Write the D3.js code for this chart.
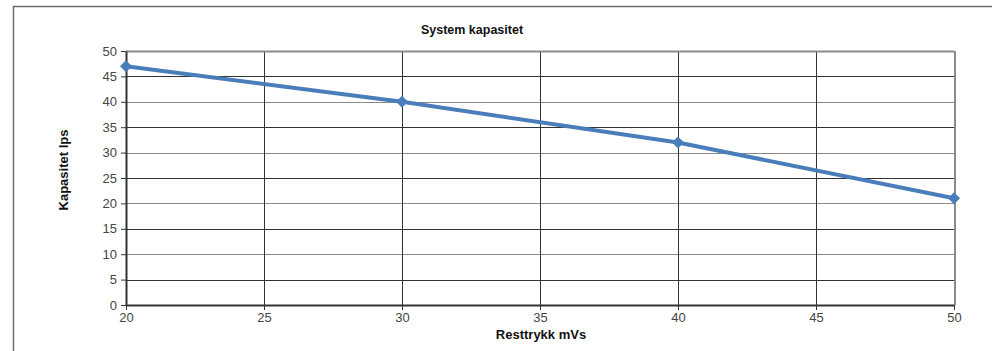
<!DOCTYPE html>
<html>
<head>
<meta charset="utf-8">
<script src="https://cdn.jsdelivr.net/npm/d3@7"></script>
<style>
  body { margin: 0; background: #fff; }
  text { font-family: "Liberation Sans", Arial, sans-serif; }
</style>
</head>
<body>
<div id="chart"></div>
<script>
// data
const resttrykk = [20, 30, 40, 50];
const kapasitet = [47, 40, 32, 21];
const xTicks = [20, 25, 30, 35, 40, 45, 50];
const yTicks = [0, 5, 10, 15, 20, 25, 30, 35, 40, 45, 50];

const W = 992, H = 351;
const margin = { top: 51, right: 38, bottom: 46, left: 126 };
const width = W - margin.left - margin.right,
    height = H - margin.top - margin.bottom;

const root = d3.select("#chart")
    .append("svg")
    .attr("width", W)
    .attr("height", H);

// outer chart frame
root.append("rect")
    .attr("x", 13.5).attr("y", 6.5)
    .attr("width", 1000).attr("height", 400)
    .attr("fill", "none")
    .attr("stroke", "#6e6e6e")
    .attr("stroke-width", 1.5);

const svg = root.append("g")
    .attr("transform", `translate(${margin.left}, ${margin.top})`);

const x = d3.scaleLinear().domain([20, 50]).range([0, width]);
const y = d3.scaleLinear().domain([0, 50]).range([height, 0]);

// gridlines
svg.append("g")
    .selectAll("line")
    .data(yTicks.slice(1))
    .join("line")
    .attr("x1", 0).attr("x2", width)
    .attr("y1", d => Math.round(y(d)) + 0.5).attr("y2", d => Math.round(y(d)) + 0.5)
    .attr("stroke", (d, i) => i % 2 ? "#8a8a8a" : "#333")
    .attr("stroke-width", 1);

svg.append("g")
    .selectAll("line")
    .data(xTicks.slice(1))
    .join("line")
    .attr("x1", d => Math.round(x(d)) + 0.5).attr("x2", d => Math.round(x(d)) + 0.5)
    .attr("y1", 0).attr("y2", height)
    .attr("stroke", "#333")
    .attr("stroke-width", 1);

// right edge shadow
svg.append("line")
    .attr("x1", width + 1).attr("x2", width + 1)
    .attr("y1", 0).attr("y2", height)
    .attr("stroke", "#8a8a8a").attr("stroke-width", 2);
svg.append("line")
    .attr("x1", 0).attr("x2", width)
    .attr("y1", 0.5).attr("y2", 0.5)
    .attr("stroke", "#8a8a8a").attr("stroke-width", 2);

// axes
const xAxis = svg.append("g")
    .attr("transform", `translate(0, ${height})`)
    .call(d3.axisBottom(x).tickValues(xTicks).tickSize(5).tickSizeOuter(0).tickPadding(3));
const yAxis = svg.append("g")
    .call(d3.axisLeft(y).tickValues(yTicks).tickSize(5).tickSizeOuter(0).tickPadding(4));

[xAxis, yAxis].forEach(a => {
    a.select(".domain").attr("stroke", "#333").attr("stroke-width", 2);
    a.selectAll(".tick line").attr("stroke", "#333");
    a.selectAll("text")
        .attr("fill", "#444")
        .style("font-size", "13px")
        .style("font-family", "'Liberation Sans', Arial, sans-serif");
});

// the line
const line = d3.line()
    .x((d, i) => x(resttrykk[i]))
    .y(d => y(d));

svg.append("path")
    .datum(kapasitet)
    .attr("fill", "none")
    .attr("stroke", "#4a7ebb")
    .attr("stroke-width", 4)
    .attr("stroke-linejoin", "round")
    .attr("d", line);

svg.append("g")
    .selectAll("path")
    .data(kapasitet)
    .join("path")
    .attr("d", d3.symbol().type(d3.symbolSquare).size(72))
    .attr("transform", (d, i) => `translate(${x(resttrykk[i])}, ${y(d)}) rotate(45)`)
    .attr("fill", "#4a7ebb");

// titles
root.append("text")
    .attr("x", 472).attr("y", 34)
    .attr("text-anchor", "middle")
    .style("font-size", "12.5px").style("font-weight", "bold")
    .attr("fill", "#111")
    .text("System kapasitet");

root.append("text")
    .attr("x", 541).attr("y", 339)
    .attr("text-anchor", "middle")
    .style("font-size", "13px").style("font-weight", "bold")
    .attr("fill", "#111")
    .text("Resttrykk mVs");

root.append("text")
    .attr("transform", "translate(68, 170) rotate(-90)")
    .attr("text-anchor", "middle")
    .style("font-size", "13px").style("font-weight", "bold")
    .attr("fill", "#111")
    .text("Kapasitet lps");
</script>
</body>
</html>
